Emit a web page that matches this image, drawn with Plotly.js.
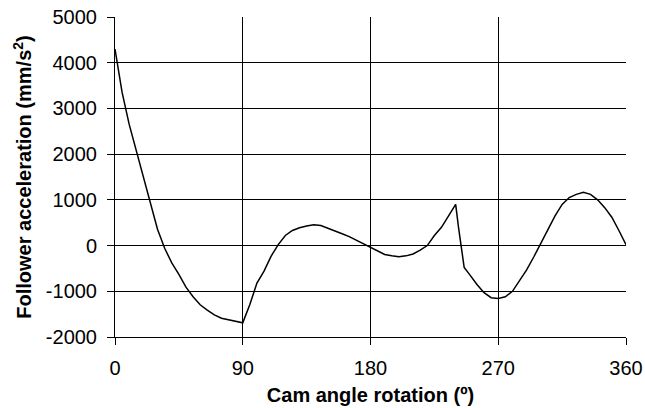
<!DOCTYPE html>
<html>
<head>
<meta charset="utf-8">
<script src="https://cdn.plot.ly/plotly-3.0.1.min.js"></script>
<style>html,body{margin:0;padding:0;background:#fff;}#chart{width:645px;height:408px;}</style>
</head>
<body>
<div id="chart"></div>
<script>
const camAngle = [0,5,10,15,20,25,30,35,40,45,50,55,60,65,70,75,80,85,90,95,100,105,110,115,120,125,130,135,140,145,150,155,160,165,170,175,180,185,190,195,200,205,210,215,220,225,230,235,240,242,244,246,250,255,260,265,270,275,280,285,290,295,300,305,310,315,320,325,330,335,340,345,350,355,360];
const acceleration = [4300,3350,2650,2070,1460,890,350,-60,-380,-630,-910,-1120,-1295,-1410,-1515,-1590,-1620,-1660,-1690,-1290,-820,-560,-230,20,220,330,390,430,455,440,385,325,260,195,120,40,-30,-115,-195,-225,-243,-225,-185,-100,0,220,400,650,900,400,-100,-480,-640,-850,-1030,-1140,-1160,-1120,-1000,-770,-530,-250,50,350,650,900,1050,1120,1165,1120,1000,830,620,330,20];
const xTicks = [0,90,180,270,360];
const yTicks = [-2000,-1000,0,1000,2000,3000,4000,5000];

const font = 'Arial, "Liberation Sans", sans-serif';
Plotly.newPlot('chart', [{
  x: camAngle, y: acceleration, type: 'scatter', mode: 'lines',
  line: {color: '#000', width: 1.5}, hoverinfo: 'skip'
}], {
  width: 645, height: 408,
  margin: {l: 115, r: 19, t: 17, b: 71},
  paper_bgcolor: '#fff', plot_bgcolor: '#fff',
  showlegend: false,
  font: {family: font, size: 20, color: '#000'},
  xaxis: {
    range: [0, 360], tickvals: xTicks, ticktext: xTicks.map(String),
    showgrid: true, gridcolor: '#000', gridwidth: 1,
    zeroline: false, showline: true, linecolor: '#000', linewidth: 1,
    ticks: 'outside', ticklen: 7, tickcolor: '#000',
    ticklabelstandoff: 6,
    tickfont: {family: font, size: 20, color: '#000'},
    title: {text: 'Cam angle rotation (º)', font: {family: font, size: 20, color: '#000', weight: 'bold'}, standoff: 9},
    automargin: false, fixedrange: true
  },
  yaxis: {
    range: [-2000, 5000], tickvals: yTicks, ticktext: yTicks.map(String),
    showgrid: true, gridcolor: '#000', gridwidth: 1,
    zeroline: false, showline: true, linecolor: '#000', linewidth: 1,
    ticks: 'outside', ticklen: 7, tickcolor: '#000',
    ticklabelstandoff: 6,
    tickfont: {family: font, size: 20, color: '#000'},
    title: {text: 'Follower acceleration (mm/s<sup>2</sup>)', font: {family: font, size: 20, color: '#000', weight: 'bold'}, standoff: 8},
    automargin: false, fixedrange: true
  }
}, {displayModeBar: false, staticPlot: true});
</script>
</body>
</html>
